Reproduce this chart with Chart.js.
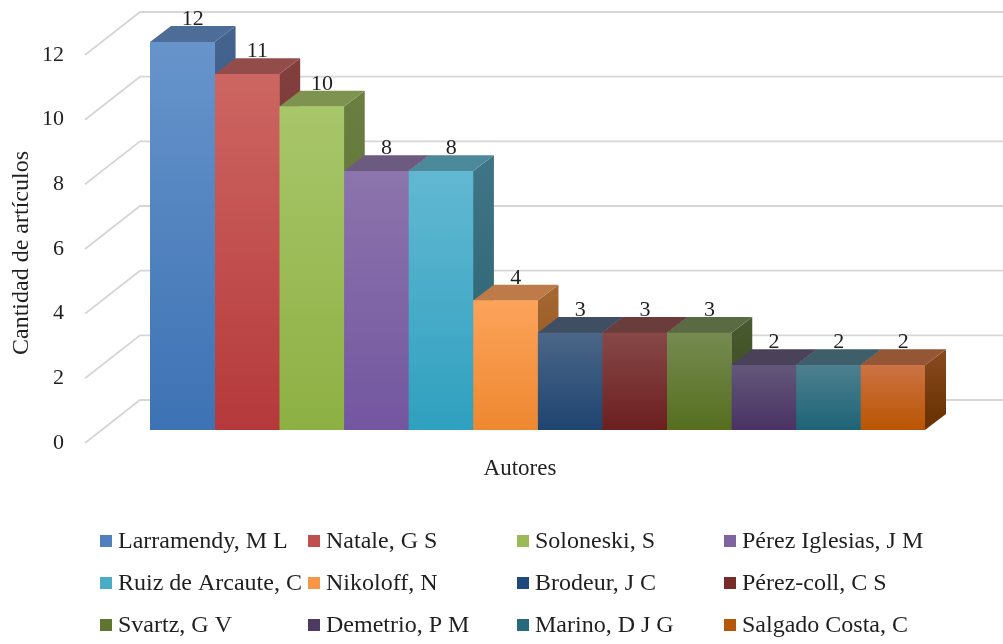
<!DOCTYPE html>
<html>
<head>
<meta charset="utf-8">
<title>Cantidad de artículos por autor</title>
<script src="https://cdn.jsdelivr.net/npm/chart.js@4.4.1/dist/chart.umd.min.js"></script>
<style>
  html, body { margin: 0; padding: 0; background: #ffffff; }
  #wrap { width: 1003px; height: 644px; position: relative; }
</style>
</head>
<body>
<div id="wrap"><canvas id="chart" width="1003" height="644"></canvas></div>
<script>
// ---- data ----
const authors = [
  'Larramendy, M L', 'Natale, G S', 'Soloneski, S', 'Pérez Iglesias, J M',
  'Ruiz de Arcaute, C', 'Nikoloff, N', 'Brodeur, J C', 'Pérez-coll, C S',
  'Svartz, G V', 'Demetrio, P M', 'Marino, D J G', 'Salgado Costa, C'
];
const articleCounts = [12, 11, 10, 8, 8, 4, 3, 3, 3, 2, 2, 2];
const tickValues = [0, 2, 4, 6, 8, 10, 12];
const yAxisTitle = 'Cantidad de artículos';
const xAxisTitle = 'Autores';

// ---- colours: legend swatch, front gradient, top face, side gradient ----
const palette = [
  { base: '#4F81BD', frontTop: '#6794CB', frontBottom: '#3D72B4', top: '#4D6C98', sideTop: '#44638F', sideBottom: '#2F4D78' },
  { base: '#C0504D', frontTop: '#CD6662', frontBottom: '#B5393A', top: '#924C4A', sideTop: '#823F3E', sideBottom: '#6A2C2B' },
  { base: '#9BBB59', frontTop: '#A8C66A', frontBottom: '#8DB043', top: '#7D934F', sideTop: '#6C7F42', sideBottom: '#566B2E' },
  { base: '#8064A2', frontTop: '#8C74AC', frontBottom: '#7356A0', top: '#6D5A80', sideTop: '#604C78', sideBottom: '#4C3A64' },
  { base: '#4BACC6', frontTop: '#62B8D2', frontBottom: '#2FA0BF', top: '#4C899B', sideTop: '#3F7586', sideBottom: '#2C6070' },
  { base: '#F79646', frontTop: '#FCA35A', frontBottom: '#EE8830', top: '#BE7A48', sideTop: '#A66832', sideBottom: '#8A521E' },
  { base: '#1F497D', frontTop: '#4B6687', frontBottom: '#1E4470', top: '#3F4E63', sideTop: '#33435A', sideBottom: '#1E3048' },
  { base: '#772C2A', frontTop: '#874848', frontBottom: '#6C1F1F', top: '#6A3C3C', sideTop: '#583030', sideBottom: '#451C1C' },
  { base: '#5F7530', frontTop: '#758B52', frontBottom: '#566E1E', top: '#5A6A42', sideTop: '#4A5A30', sideBottom: '#3A4A1E' },
  { base: '#4D3B62', frontTop: '#625779', frontBottom: '#4A3264', top: '#4A4258', sideTop: '#3D354B', sideBottom: '#2E2440' },
  { base: '#276A7C', frontTop: '#4D808F', frontBottom: '#1D6477', top: '#3E5E69', sideTop: '#325058', sideBottom: '#1E4350' },
  { base: '#B65708', frontTop: '#CC7244', frontBottom: '#BA5502', top: '#955635', sideTop: '#8A4A20', sideBottom: '#6C3404' }
];

// ---- 3D projection offsets (oblique view) ----
const BAR_DEPTH = { dx: 21, dy: -16 };   // bar front -> bar back
const WALL = { frontX: 85, backX: 140, frontDy: 13, backDy: -30, rightX: 1003 };
const FONT = 'Liberation Serif, "Times New Roman", serif';
const TEXT_COLOR = '#1f1f1f';

// walls: slanted side-wall lines plus horizontal back-wall lines at every tick
const wallPlugin = {
  id: 'wall3d',
  beforeDatasetsDraw(chart) {
    const { ctx, scales: { y } } = chart;
    ctx.save();
    ctx.strokeStyle = '#d6d6d6';
    ctx.lineWidth = 1.8;
    tickValues.forEach(v => {
      const py = y.getPixelForValue(v);
      ctx.beginPath();
      ctx.moveTo(WALL.frontX, py + WALL.frontDy);
      ctx.lineTo(WALL.backX, py + WALL.backDy);
      ctx.lineTo(WALL.rightX, py + WALL.backDy);
      ctx.stroke();
    });
    ctx.restore();
  }
};

// top and right faces of each column, drawn left to right before the fronts
const boxPlugin = {
  id: 'box3d',
  beforeDatasetsDraw(chart) {
    const { ctx } = chart;
    const { dx, dy } = BAR_DEPTH;
    ctx.save();
    chart.data.datasets.forEach((ds, i) => {
      const el = chart.getDatasetMeta(i).data[0];
      if (!el) return;
      const { x, y, base, width } = el.getProps(['x', 'y', 'base', 'width'], true);
      const l = x - width / 2, r = x + width / 2;
      const c = palette[i];
      // right side
      const g = ctx.createLinearGradient(0, y + dy, 0, base + dy);
      g.addColorStop(0, c.sideTop);
      g.addColorStop(1, c.sideBottom);
      ctx.fillStyle = g;
      ctx.beginPath();
      ctx.moveTo(r, y);
      ctx.lineTo(r + dx, y + dy);
      ctx.lineTo(r + dx, base + dy);
      ctx.lineTo(r, base);
      ctx.closePath();
      ctx.fill();
      // top
      ctx.fillStyle = c.top;
      ctx.beginPath();
      ctx.moveTo(l, y);
      ctx.lineTo(l + dx, y + dy);
      ctx.lineTo(r + dx, y + dy);
      ctx.lineTo(r, y);
      ctx.closePath();
      ctx.fill();
    });
    ctx.restore();
  },
  afterDatasetsDraw(chart) {
    const { ctx } = chart;
    const { dx, dy } = BAR_DEPTH;
    ctx.save();
    ctx.fillStyle = TEXT_COLOR;
    ctx.font = '22px ' + FONT;
    ctx.textAlign = 'center';
    ctx.textBaseline = 'alphabetic';
    chart.data.datasets.forEach((ds, i) => {
      const el = chart.getDatasetMeta(i).data[0];
      if (!el) return;
      const { x, y } = el.getProps(['x', 'y'], true);
      ctx.fillText(String(ds.data[0]), x + dx / 2, y + dy - 1);
    });
    ctx.restore();
  }
};

// axis titles and a four-column legend grid
const textPlugin = {
  id: 'titlesLegend',
  afterDraw(chart) {
    const { ctx } = chart;
    ctx.save();
    ctx.fillStyle = TEXT_COLOR;
    ctx.textAlign = 'center';
    ctx.textBaseline = 'middle';
    ctx.font = '23px ' + FONT;
    ctx.fillText(xAxisTitle, 520, 469);
    ctx.save();
    ctx.font = '24px ' + FONT;
    ctx.translate(22, 253);
    ctx.rotate(-Math.PI / 2);
    ctx.fillText(yAxisTitle, 0, 0);
    ctx.restore();

    const colX = [100, 308, 517, 724];
    const rowY = [541, 583, 625];
    ctx.font = '24px ' + FONT;
    ctx.textAlign = 'left';
    chart.data.datasets.forEach((ds, i) => {
      const cx = colX[i % 4], cy = rowY[Math.floor(i / 4)];
      ctx.fillStyle = palette[i].base;
      ctx.fillRect(cx, cy - 6, 12, 12);
      ctx.fillStyle = TEXT_COLOR;
      ctx.fillText(ds.label, cx + 18, cy + 1);
    });
    ctx.restore();
  }
};

function frontGradient(i) {
  return (context) => {
    const chart = context.chart;
    const ys = chart.scales && chart.scales.y;
    if (!chart.chartArea || !ys) return palette[i].base;
    const v = articleCounts[i];
    const g = chart.ctx.createLinearGradient(0, ys.getPixelForValue(v), 0, ys.getPixelForValue(0));
    g.addColorStop(0, palette[i].frontTop);
    g.addColorStop(1, palette[i].frontBottom);
    return g;
  };
}

new Chart(document.getElementById('chart'), {
  type: 'bar',
  data: {
    labels: [''],
    datasets: authors.map((name, i) => ({
      label: name,
      data: [articleCounts[i]],
      backgroundColor: frontGradient(i),
      borderWidth: 0,
      categoryPercentage: 1,
      barPercentage: 1
    }))
  },
  options: {
    responsive: false,
    devicePixelRatio: 1,
    animation: false,
    layout: { padding: { left: 40, right: 78, top: 42, bottom: 214 } },
    plugins: {
      legend: { display: false },
      tooltip: { enabled: false },
      title: { display: false }
    },
    scales: {
      x: { display: false },
      y: {
        min: 0,
        max: 12,
        afterBuildTicks: (scale) => { scale.ticks = tickValues.map(v => ({ value: v })); },
        afterFit: (scale) => {
          scale.width = 110;
          scale.paddingTop = 0;
          scale.paddingBottom = 0;
        },
        grid: { display: false, drawTicks: false },
        border: { display: false },
        ticks: {
          padding: 86,
          labelOffset: 13,
          color: TEXT_COLOR,
          font: { family: FONT, size: 22 }
        }
      }
    }
  },
  plugins: [wallPlugin, boxPlugin, textPlugin]
});
</script>
</body>
</html>
